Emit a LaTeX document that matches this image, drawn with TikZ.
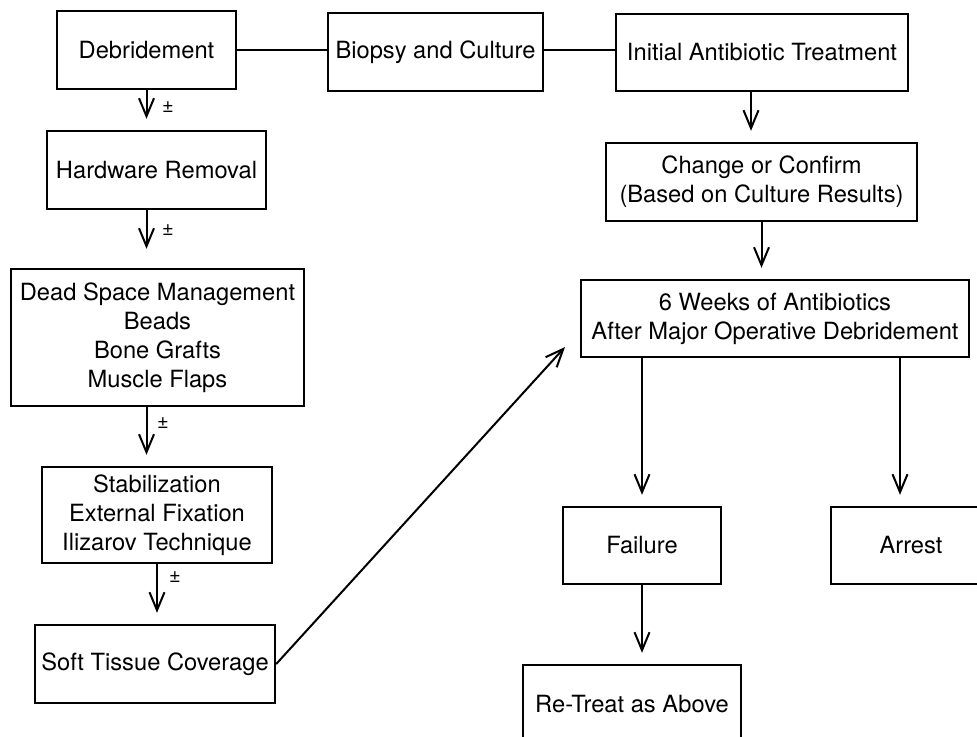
\documentclass[tikz,border=0pt]{standalone}
\usepackage{fontspec}
\setmainfont{TeX Gyre Heros}
\usetikzlibrary{arrows.meta}

\begin{document}
\begin{tikzpicture}[x=0.5pt, y=-0.5pt,
  box/.style={draw, line width=1.2pt, inner sep=0pt, align=center,
    font=\fontsize{11.85}{14.5}\selectfont},
  arr/.style={line width=1pt, -{Straight Barb[length=9pt, width=7.5pt]}, shorten >=5.5pt},
  link/.style={line width=1.1pt},
  pm/.style={inner sep=0pt, font=\fontsize{10}{11}\selectfont}]
  \useasboundingbox (0,0) rectangle (977,736);

  \node[box, minimum width=89.5pt, minimum height=39pt] (deb) at (146.5,50) {Debridement};
  \node[box, minimum width=107.5pt, minimum height=39pt] (bio) at (435.5,52) {Biopsy and Culture};
  \node[box, minimum width=146pt, minimum height=38.5pt] (ini) at (762,52.5) {Initial Antibiotic Treatment};
  \node[box, minimum width=155.5pt, minimum height=39pt] (chg) at (761.5,182) {Change or Confirm\\(Based on Culture Results)};
  \node[box, minimum width=194pt, minimum height=38.5pt] (wk6) at (775,318.5) {6 Weeks of Antibiotics\\After Major Operative Debridement};
  \node[box, minimum width=79pt, minimum height=38.5pt] (fail) at (642,545.5) {Failure};
  \node[box, minimum width=80pt, minimum height=38.5pt] (arst) at (911,545.5) {Arrest};
  \node[box, minimum width=109pt, minimum height=39pt] (ret) at (632,704) {Re-Treat as Above};

  \node[box, minimum width=109.5pt, minimum height=39pt] (hw) at (156.5,170) {Hardware Removal};
  \node[box, minimum width=146.5pt, minimum height=68.5pt] (ds) at (157.5,337.5) {Dead Space Management\\Beads\\Bone Grafts\\Muscle Flaps};
  \node[box, minimum width=115pt, minimum height=48pt] (stb) at (157,515) {Stabilization\\External Fixation\\Ilizarov Technique};
  \node[box, minimum width=120pt, minimum height=39pt] (sft) at (155,664) {Soft Tissue Coverage};
  \coordinate (tip) at (565,347);

  \draw[link] (deb.east) -- (deb.east -| bio.west);
  \draw[link] (bio.east |- deb.east) -- (deb.east -| ini.west);

  \draw[arr] (deb.south) -- (deb.south |- hw.north);
  \draw[arr, shorten >=9.5pt] (hw.south -| deb.south) -- (deb.south |- ds.north);
  \draw[arr] (ds.south -| deb.south) -- (deb.south |- stb.north);
  \draw[arr] (stb.south) -- (stb.south |- sft.north);
  \draw[line width=1pt, -{Straight Barb[length=9pt, width=7.5pt]}] (sft.east) -- (tip);

  \draw[arr] ([xshift=-5.5pt]ini.south) -- ([xshift=-5.5pt]ini.south |- chg.north);
  \draw[arr] (chg.south) -- (chg.south |- wk6.north);
  \draw[arr] (fail.north |- wk6.south) -- (fail.north);
  \draw[arr] ([xshift=-5.5pt]arst.north |- wk6.south) -- ([xshift=-5.5pt]arst.north);
  \draw[arr] (fail.south) -- (fail.south |- ret.north);

  \node[pm] (pmA) at (168,107) {±};
  \node[pm] (pmB) at (168,230) {±};
  \node[pm] (pmC) at (163,423) {±};
  \node[pm] (pmD) at (175,577) {±};
\end{tikzpicture}
\end{document}
